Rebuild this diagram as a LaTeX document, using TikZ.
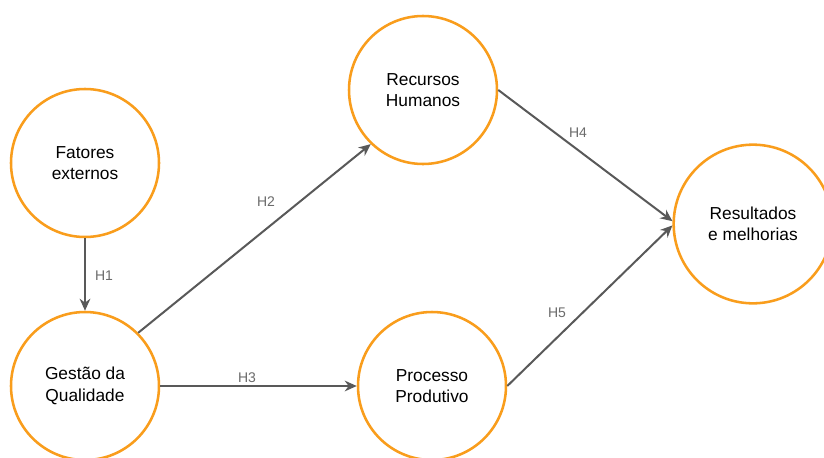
\documentclass[tikz,border=0pt]{standalone}
\usepackage{fontspec}
\setmainfont{Liberation Sans}
\usetikzlibrary{arrows.meta}
\definecolor{ringorange}{HTML}{F99D1C}
\definecolor{linkgray}{HTML}{595959}
\definecolor{labelgray}{HTML}{6B6B6B}
\tikzset{
  construct/.style={circle, draw=ringorange, line width=1.9pt, fill=white,
    minimum size=111pt, inner sep=0pt, align=center,
    font=\fontsize{13}{16}\selectfont, text=black},
  bigconstruct/.style={construct, minimum size=119pt},
  link/.style={draw=linkgray, line width=1.5pt, -{Stealth[length=9pt,width=8pt]}},
  hyp/.style={font=\fontsize{10.5}{12}\selectfont, text=labelgray}
}
\begin{document}
\begin{tikzpicture}[x=0.75pt, y=-0.75pt]
  \useasboundingbox (0,0) rectangle (824,457);
  \fill[white] (0,0) rectangle (824,457);
  % constructs
  \node[construct] (fe) at (85,163) {Fatores\\externos};
  \node[construct] (gq) at (85,386) {Gestão da\\Qualidade};
  \node[construct] (rh) at (423,90) {Recursos\\Humanos};
  \node[construct] (pp) at (432,386) {Processo\\Produtivo};
  \node[bigconstruct] (rm) at (753,224) {Resultados\\e melhorias};
  % hypotheses
  \draw[link] (fe) -- (gq);
  \draw[link] (gq.45) -- (rh.226);
  \draw[link] (gq) -- (pp);
  \draw[link] (rh.east) -- (rm.178.6);
  \draw[link] (pp.east) -- (rm.181.4);
  % hypothesis labels
  \node[hyp] (h1) at (104,276) {H1};
  \node[hyp] (h2) at (266,202) {H2};
  \node[hyp] (h3) at (247,378) {H3};
  \node[hyp] (h4) at (578,133) {H4};
  \node[hyp] (h5) at (557,313) {H5};
\end{tikzpicture}
\end{document}
